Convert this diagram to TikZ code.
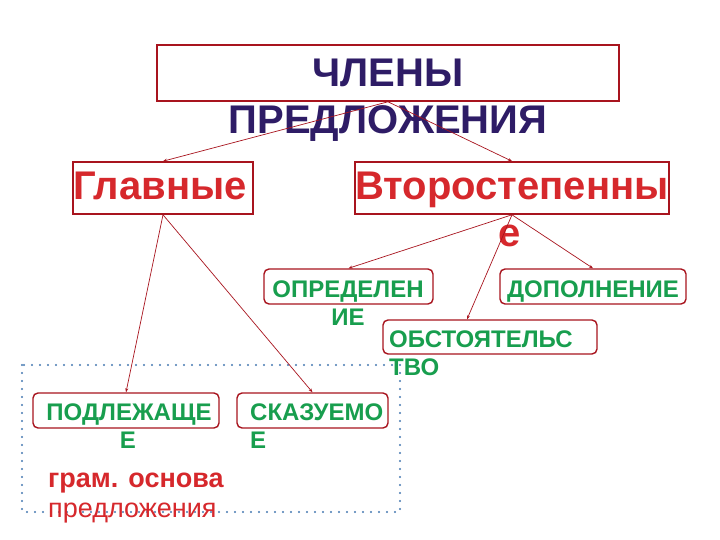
\documentclass[tikz,border=0pt]{standalone}
\usepackage{fontspec}
\setmainfont{Liberation Sans}
\usepackage{xcolor}
\usetikzlibrary{positioning,arrows.meta}
\definecolor{titleink}{RGB}{46,28,102}
\definecolor{redink}{RGB}{214,40,44}
\definecolor{boxline}{RGB}{168,20,30}
\definecolor{greenink}{RGB}{24,158,78}
\definecolor{dotblue}{RGB}{70,122,178}

\begin{document}
\begin{tikzpicture}[x=1pt,y=-1pt,
    bigbox/.style={draw=boxline, line width=1.6pt, inner sep=0pt},
    smallbox/.style={draw=boxline, line width=1.4pt, rounded corners=5pt, inner sep=0pt},
    link/.style={-{Stealth[length=4pt,width=3pt]}, draw=boxline, line width=0.7pt},
    titletxt/.style={text=titleink, font=\fontsize{40}{47}\selectfont\bfseries, anchor=base, inner sep=0pt},
    redtxt/.style={text=redink, font=\fontsize{40}{47}\selectfont\bfseries, anchor=base, inner sep=0pt},
    greentxt/.style={text=greenink, font=\fontsize{24}{28}\selectfont\bfseries, anchor=base, inner sep=0pt},
    basetxt/.style={text=redink, font=\fontsize{27}{30}\selectfont, anchor=base west, inner sep=0pt}]
        \path[fill=white, use as bounding box] (0,0) rectangle (720,540);

        % dotted frame round the grammar base
        \draw[dotblue, line width=2.2pt, line cap=round, dash pattern=on 0pt off 8pt] (22,365) rectangle (400,512);

        % boxes
        \node[bigbox, minimum width=462pt, minimum height=56pt] (chleny) at (388,73) {};
        \node[bigbox, minimum width=180pt, minimum height=52pt] (glav) at (163,188) {};
        \node[bigbox, minimum width=314pt, minimum height=52pt] (vtor) at (512,188) {};
        \node[smallbox, minimum width=169pt, minimum height=35pt] (opr) at (348.5,286.5) {};
        \node[smallbox, minimum width=186pt, minimum height=35pt] (dop) at (593,286.5) {};
        \node[smallbox, minimum width=214pt, minimum height=34pt] (obst) at (490,337) {};
        \node[smallbox, minimum width=186pt, minimum height=35pt] (podl) at (126,410.5) {};
        \node[smallbox, minimum width=151pt, minimum height=35pt] (skaz) at (312.5,410.5) {};

        % texts
        \node[titletxt] (chleny-a) at (388,87) {ЧЛЕНЫ};
        \node[titletxt] (chleny-b) at (388,134) {ПРЕДЛОЖЕНИЯ};
        \node[redtxt] (glav-t) at (160,200) {Главные};
        \node[redtxt] (vtor-a) at (512,200) {Второстепенны};
        \node[redtxt] (vtor-b) at (510,247) {е};
        \node[greentxt] (opr-a) at (348,297) {ОПРЕДЕЛЕН};
        \node[greentxt] (opr-b) at (348,325) {ИЕ};
        \node[greentxt] (dop-t) at (593,297) {ДОПОЛНЕНИЕ};
        \node[greentxt, anchor=base west] (obst-a) at (389,347) {ОБСТОЯТЕЛЬС};
        \node[greentxt, anchor=base west] (obst-b) at (389,375) {ТВО};
        \node[greentxt] (podl-a) at (129,420) {ПОДЛЕЖАЩЕ};
        \node[greentxt] (podl-b) at (128,448) {Е};
        \node[greentxt, anchor=base west] (skaz-a) at (250,420) {СКАЗУЕМО};
        \node[greentxt, anchor=base west] (skaz-b) at (250,448) {Е};
        \node[basetxt, font=\fontsize{27}{30}\selectfont\bfseries] (osnova) at (48,487) {грам. основа};
        \node[basetxt] (predl) at (48,517) {предложения};

        % arrows
        \draw[link] (chleny.south) -- (glav.north);
        \draw[link] (chleny.south) -- (vtor.north);
        \draw[link] (glav.south) -- (podl.north);
        \draw[link] (glav.south) -- (skaz.north);
        \draw[link] (vtor.south) -- (opr.north);
        \draw[link] (vtor.south) -- ([xshift=-23pt]obst.north);
        \draw[link] (vtor.south) -- (dop.north);
\end{tikzpicture}
\end{document}
